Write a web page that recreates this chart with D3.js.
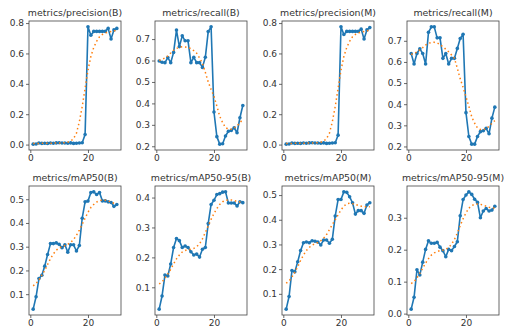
<!DOCTYPE html>
<html><head><meta charset="utf-8">
<script src="https://cdn.jsdelivr.net/npm/d3@7"></script>
<style>
html,body{margin:0;padding:0;background:#fff;}
svg{display:block;font-family:"DejaVu Sans",sans-serif;}
</style></head>
<body>
<svg id="chart" width="506" height="330"></svg>
<script>
const epochs = d3.range(1, 31);
const titles = ["metrics/precision(B)","metrics/recall(B)","metrics/precision(M)","metrics/recall(M)",
  "metrics/mAP50(B)","metrics/mAP50-95(B)","metrics/mAP50(M)","metrics/mAP50-95(M)"];

const precisionB = [0.003,0.004,0.010,0.008,0.009,0.008,0.010,0.009,0.011,0.012,0.010,0.010,0.009,0.011,0.008,0.009,0.010,0.012,0.066,0.775,0.720,0.745,0.745,0.745,0.745,0.745,0.765,0.695,0.755,0.765];
const precisionBSmooth = [0.008,0.008,0.008,0.009,0.009,0.009,0.009,0.010,0.010,0.010,0.011,0.013,0.016,0.022,0.040,0.075,0.150,0.250,0.370,0.490,0.580,0.640,0.680,0.710,0.725,0.735,0.740,0.745,0.750,0.750];
const recallB = [0.598,0.592,0.590,0.614,0.590,0.638,0.742,0.665,0.715,0.692,0.692,0.590,0.615,0.590,0.590,0.568,0.615,0.735,0.757,0.360,0.245,0.210,0.212,0.248,0.270,0.274,0.286,0.263,0.333,0.390];
const recallBSmooth = [0.600,0.605,0.612,0.622,0.635,0.648,0.656,0.662,0.664,0.663,0.660,0.656,0.646,0.634,0.612,0.587,0.545,0.500,0.465,0.433,0.387,0.340,0.310,0.287,0.280,0.280,0.285,0.295,0.310,0.325];
const precisionM = [0.003,0.004,0.010,0.008,0.009,0.008,0.010,0.009,0.011,0.012,0.010,0.010,0.009,0.011,0.008,0.009,0.010,0.012,0.062,0.775,0.725,0.745,0.745,0.745,0.745,0.745,0.760,0.695,0.755,0.770];
const precisionMSmooth = [0.008,0.008,0.008,0.009,0.009,0.009,0.009,0.010,0.010,0.010,0.011,0.013,0.016,0.022,0.040,0.075,0.150,0.250,0.370,0.490,0.580,0.640,0.680,0.710,0.725,0.735,0.740,0.745,0.750,0.752];
const recallM = [0.640,0.590,0.640,0.662,0.640,0.590,0.740,0.766,0.766,0.714,0.714,0.617,0.640,0.590,0.617,0.617,0.664,0.711,0.731,0.360,0.247,0.211,0.211,0.247,0.270,0.274,0.286,0.260,0.334,0.386];
const recallMSmooth = [0.635,0.640,0.647,0.657,0.668,0.680,0.688,0.692,0.693,0.690,0.682,0.672,0.660,0.648,0.633,0.617,0.570,0.520,0.480,0.435,0.390,0.340,0.310,0.287,0.280,0.280,0.285,0.295,0.310,0.322];
const map50B = [0.037,0.089,0.166,0.180,0.218,0.267,0.313,0.313,0.316,0.310,0.296,0.308,0.277,0.308,0.308,0.282,0.305,0.420,0.489,0.492,0.528,0.531,0.520,0.528,0.493,0.493,0.489,0.486,0.470,0.478];
const map50BSmooth = [0.135,0.145,0.160,0.180,0.200,0.225,0.250,0.270,0.285,0.295,0.300,0.305,0.310,0.318,0.330,0.348,0.370,0.395,0.420,0.445,0.465,0.478,0.488,0.494,0.497,0.496,0.493,0.488,0.483,0.480];
const map5095B = [0.027,0.071,0.141,0.138,0.178,0.233,0.263,0.256,0.233,0.238,0.233,0.219,0.208,0.211,0.201,0.227,0.233,0.313,0.377,0.391,0.410,0.413,0.418,0.419,0.382,0.382,0.382,0.372,0.386,0.383];
const map5095BSmooth = [0.111,0.118,0.130,0.145,0.160,0.178,0.195,0.208,0.218,0.223,0.226,0.227,0.230,0.236,0.245,0.262,0.283,0.305,0.327,0.347,0.363,0.377,0.386,0.391,0.392,0.392,0.390,0.387,0.385,0.384];
const map50M = [0.038,0.089,0.194,0.189,0.230,0.275,0.307,0.310,0.307,0.315,0.313,0.310,0.298,0.318,0.318,0.305,0.321,0.415,0.482,0.482,0.513,0.511,0.493,0.469,0.423,0.437,0.437,0.426,0.460,0.469];
const map50MSmooth = [0.143,0.152,0.168,0.188,0.210,0.235,0.257,0.275,0.288,0.297,0.303,0.308,0.315,0.325,0.340,0.360,0.380,0.400,0.420,0.440,0.455,0.465,0.467,0.465,0.462,0.458,0.455,0.453,0.453,0.453];
const map5095M = [0.014,0.051,0.137,0.121,0.161,0.201,0.228,0.220,0.220,0.223,0.208,0.197,0.178,0.201,0.197,0.210,0.225,0.306,0.357,0.371,0.381,0.373,0.358,0.348,0.300,0.321,0.329,0.321,0.324,0.336];
const map5095MSmooth = [0.094,0.100,0.112,0.126,0.142,0.158,0.172,0.183,0.190,0.194,0.197,0.199,0.202,0.207,0.217,0.232,0.252,0.275,0.297,0.315,0.330,0.338,0.342,0.343,0.342,0.340,0.336,0.333,0.331,0.330];

const xTicks = [0, 20];
const yTicks = [
  [0.0,0.2,0.4,0.6,0.8],
  [0.2,0.3,0.4,0.5,0.6,0.7],
  [0.0,0.2,0.4,0.6,0.8],
  [0.2,0.3,0.4,0.5,0.6,0.7],
  [0.1,0.2,0.3,0.4,0.5],
  [0.1,0.2,0.3,0.4],
  [0.1,0.2,0.3,0.4,0.5],
  [0.0,0.1,0.2,0.3]
];
const series = [precisionB, recallB, precisionM, recallM, map50B, map5095B, map50M, map5095M];
const smooth = [precisionBSmooth, recallBSmooth, precisionMSmooth, recallMSmooth, map50BSmooth, map5095BSmooth, map50MSmooth, map5095MSmooth];

const svg = d3.select("#chart");
const colLeft = [29, 155, 282, 407];
const rowTop = [21, 186];
const W = 92, H = 129;
const textColor = "#333";

series.forEach((vals, i) => {
  const r = Math.floor(i / 4), c = i % 4;
  const g = svg.append("g").attr("transform", `translate(${colLeft[c]},${rowTop[r]})`);
  const xExt = d3.extent(epochs);
  const xm = (xExt[1] - xExt[0]) * 0.05;
  const x = d3.scaleLinear().domain([xExt[0] - xm, xExt[1] + xm]).range([0, W]);
  const all = vals.concat(smooth[i]);
  const yExt = d3.extent(all);
  const ym = (yExt[1] - yExt[0]) * 0.05;
  const y = d3.scaleLinear().domain([yExt[0] - ym, yExt[1] + ym]).range([H, 0]);

  const line = d3.line().x((d, j) => x(epochs[j])).y(d => y(d));

  g.append("path").datum(vals).attr("d", line)
    .attr("fill", "none").attr("stroke", "#1f77b4").attr("stroke-width", 1.6).attr("stroke-linejoin", "round");
  g.selectAll("circle.pt").data(vals).enter().append("circle")
    .attr("cx", (d, j) => x(epochs[j])).attr("cy", d => y(d)).attr("r", 1.8).attr("fill", "#1f77b4");
  g.append("path").datum(smooth[i]).attr("d", line)
    .attr("fill", "none").attr("stroke", "#ff7f0e").attr("stroke-width", 1.5)
    .attr("stroke-dasharray", "1.5,2.8");

  const xa = g.append("g").attr("transform", `translate(0,${H})`)
    .call(d3.axisBottom(x).tickValues(xTicks).tickSize(3).tickPadding(2).tickFormat(d3.format("d")));
  const ya = g.append("g")
    .call(d3.axisLeft(y).tickValues(yTicks[i]).tickSize(3).tickPadding(2).tickFormat(d3.format(".1f")));
  [xa, ya].forEach(a => {
    a.select(".domain").remove();
    a.selectAll("line").attr("stroke", "#444").attr("stroke-width", 0.8);
    a.selectAll("text").attr("fill", textColor).style("font-size", "9px").style("font-family", "DejaVu Sans, sans-serif");
  });
  g.append("rect").attr("x", 0).attr("y", 0).attr("width", W).attr("height", H)
    .attr("fill", "none").attr("stroke", "#444").attr("stroke-width", 0.8);
  g.append("text").attr("x", W / 2).attr("y", -5).attr("text-anchor", "middle")
    .attr("fill", textColor).style("font-size", "9.4px").text(titles[i]);
});
</script>
</body></html>
